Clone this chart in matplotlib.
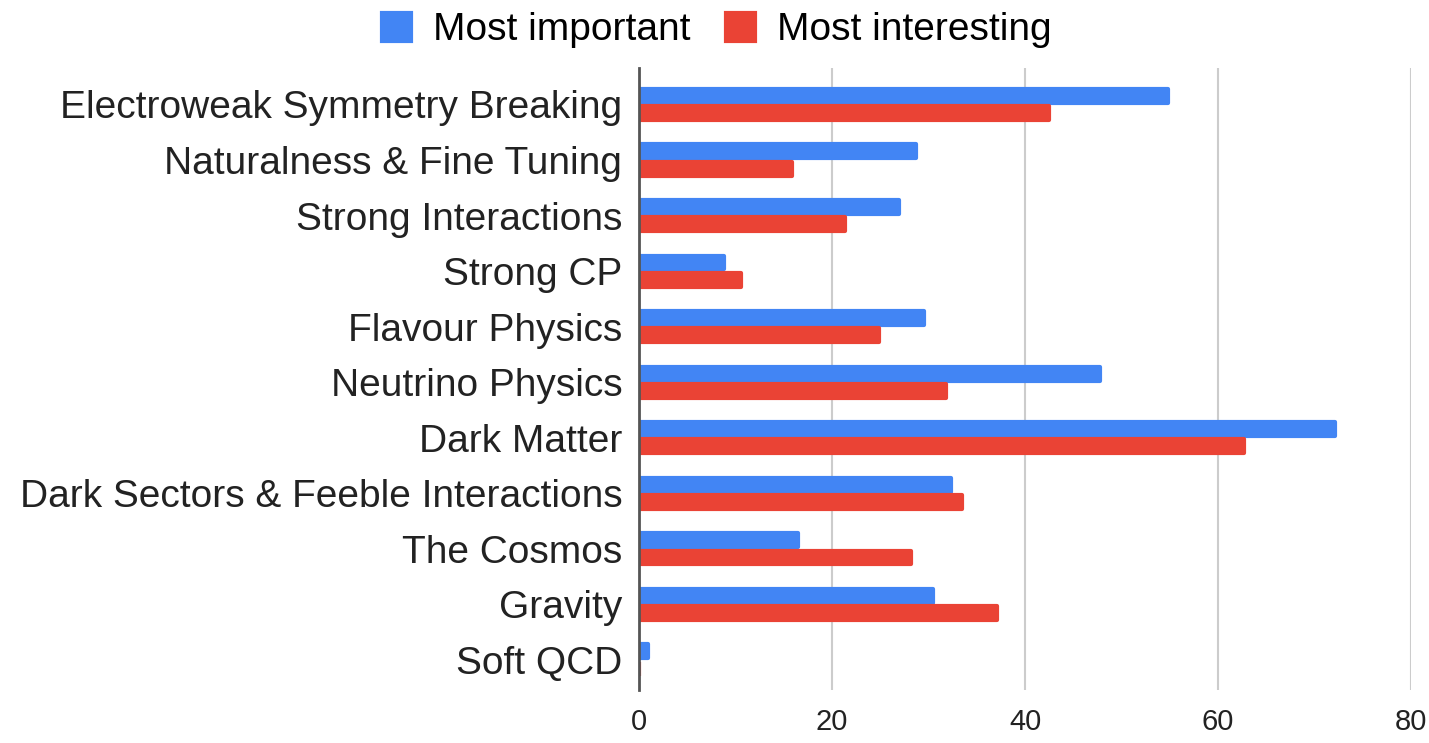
import numpy as np
import matplotlib.pyplot as plt

plt.rcParams['font.family'] = ['Liberation Sans', 'DejaVu Sans']

topics = ['Electroweak Symmetry Breaking', 'Naturalness & Fine Tuning',
          'Strong Interactions', 'Strong CP', 'Flavour Physics',
          'Neutrino Physics', 'Dark Matter', 'Dark Sectors & Feeble Interactions',
          'The Cosmos', 'Gravity', 'Soft QCD']
most_important = [54.8, 28.7, 26.9, 8.8, 29.5, 47.8, 72.1, 32.3, 16.5, 30.5, 0.9]
most_interesting = [42.5, 15.9, 21.3, 10.6, 24.9, 31.8, 62.7, 33.5, 28.2, 37.1, 0]
xticks = [0, 20, 40, 60, 80]

blue = '#4285F4'
red = '#EA4335'

fig = plt.figure(figsize=(14.29, 7.43), dpi=100)
ax = fig.add_axes([639/1429, 53/743, (1411-639)/1429, (690-68)/743])

y = np.arange(len(topics))
h = 0.25
ax.barh(y - 0.155, most_important, height=h, color=blue, edgecolor=blue,
        linewidth=3, joinstyle='round', label='Most important', zorder=3)
ax.barh(y + 0.155, most_interesting, height=h, color=red, edgecolor=red,
        linewidth=3, joinstyle='round', label='Most interesting', zorder=3)

ax.set_ylim(10.54, -0.657)
ax.set_xlim(0, 80)
ax.set_xticks(xticks)
ax.set_xticklabels([str(t) for t in xticks], fontsize=21, color='#222222')
ax.set_yticks(y)
ax.set_yticklabels(topics, fontsize=28, color='#222222')
ax.tick_params(axis='both', length=0)
ax.tick_params(axis='y', pad=12)
ax.tick_params(axis='x', pad=13)

ax.grid(axis='x', color='#cccccc', linewidth=1.5, zorder=0)
for s in ['top', 'right', 'bottom']:
    ax.spines[s].set_visible(False)
ax.spines['left'].set_color('#555555')
ax.spines['left'].set_linewidth(2)
ax.spines['left'].set_zorder(4)

fig.legend(loc='center', bbox_to_anchor=(0.5017, 0.959), ncol=2, frameon=False,
           fontsize=28, handlelength=0.75, handleheight=0.75, handletextpad=0.57,
           columnspacing=0.9, borderpad=0, borderaxespad=0)

fig.savefig('out.png', dpi=100, facecolor='white')
